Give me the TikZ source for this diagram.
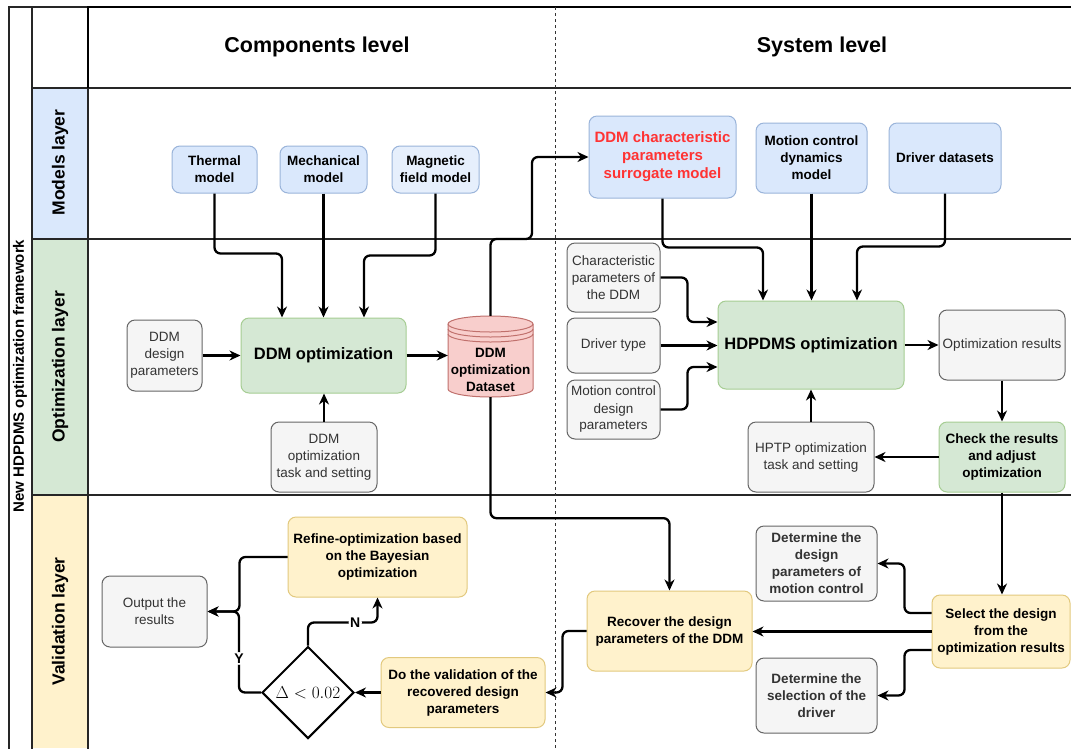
\documentclass[tikz,border=0pt]{standalone}
\usepackage{fontspec}
\setmainfont{Liberation Sans}
\usetikzlibrary{arrows.meta,shapes.geometric}

\definecolor{bluefill}{HTML}{DAE8FC}
\definecolor{bluelite}{HTML}{E6EFFC}
\definecolor{blueline}{HTML}{9AB4DA}
\definecolor{greenfill}{HTML}{D5E8D4}
\definecolor{greenline}{HTML}{A6CD93}
\definecolor{greyfill}{HTML}{F5F5F5}
\definecolor{greyline}{HTML}{666666}
\definecolor{greytext}{HTML}{333333}
\definecolor{yellowfill}{HTML}{FFF2CC}
\definecolor{yellowline}{HTML}{E2C97E}
\definecolor{redfill}{HTML}{F8CECC}
\definecolor{redline}{HTML}{C0706C}
\definecolor{redtext}{HTML}{FF3333}

\newcommand\bxf{\fontsize{13.5}{17}\selectfont}
\newcommand\bigbxf{\fontsize{16.5}{20}\selectfont\bfseries}
\newcommand\hdrf{\fontsize{21.5}{26}\selectfont\bfseries}
\newcommand\layf{\fontsize{17.5}{21}\selectfont\bfseries}

\begin{document}
\begin{tikzpicture}[x=1pt,y=-1pt,
  every node/.style={inner sep=0pt},
  base/.style={rounded corners=8pt, align=center, line width=1pt, font=\bxf},
  bluebox/.style={base, draw=blueline, fill=bluefill, font=\bxf\bfseries},
  greybox/.style={base, draw=greyline, fill=greyfill, text=greytext},
  greenbox/.style={base, draw=greenline, fill=greenfill, font=\bxf\bfseries},
  yellowbox/.style={base, draw=yellowline, fill=yellowfill, font=\bxf\bfseries},
  sz/.style 2 args={minimum width=#1pt, minimum height=#2pt},
  arr/.style={line width=2.3pt, rounded corners=6pt, -{Stealth[length=11pt,width=10pt,inset=3.5pt]}},
  lab/.style={fill=white, font=\fontsize{14}{17}\selectfont\bfseries, inner sep=1.5pt},
  gridline/.style={line width=1.1pt, draw=black!85},
  headline/.style={line width=1.6pt, draw=black},
  dashline/.style={line width=1pt, draw=black!80, dash pattern=on 3pt off 3pt},
  laylabel/.style={rotate=90, font=\layf}
]
\useasboundingbox (0,0) rectangle (1071,748);
\clip (0,0) rectangle (1071,748);

% ---------- swimlane frame ----------
\fill[white] (0,0) rectangle (1071,748);
\fill[bluefill] (32,88) rectangle (88,239);
\fill[greenfill] (32,239) rectangle (88,495);
\fill[yellowfill] (32,495) rectangle (88,748);
\draw[gridline] (9,760) -- (9,7) -- (88,7);
\draw[gridline] (32,7) -- (32,760);
\draw[gridline] (32,88) -- (1080,88);
\draw[gridline] (32,239) -- (1080,239);
\draw[gridline] (32,495) -- (1080,495);
\draw[gridline] (88,88) -- (88,760);
\draw[headline] (88,88) -- (88,7) -- (1080,7);
\draw[dashline] (555,7) -- (555,760);

\node[rotate=90, font=\fontsize{15}{18}\selectfont\bfseries] (fw) at (20,376) {New HDPDMS optimization framework};
\node[laylabel] (lm) at (60,162.5) {Models layer};
\node[laylabel] (lo) at (60,367) {Optimization layer};
\node[laylabel] (lv) at (60,621.5) {Validation layer};
\node[font=\hdrf] (hc) at (317,47) {Components level};
\node[font=\hdrf] (hs) at (822,47) {System level};

% ---------- models layer ----------
\node[bluebox, sz={85}{47}] (th) at (214.5,169.5) {Thermal\\model};
\node[bluebox, sz={87}{47}] (me) at (323.5,169.5) {Mechanical\\model};
\node[bluebox, fill=bluelite, sz={87}{47}] (mg) at (435.5,169.5) {Magnetic\\field model};
\node[bluebox, sz={147}{82}, text=redtext, font=\fontsize{15}{18}\selectfont\bfseries] (sg) at (662.5,157) {DDM characteristic\\parameters\\surrogate model};
\node[bluebox, sz={111}{70}] (mc) at (811.5,158) {Motion control\\dynamics\\model};
\node[bluebox, sz={112}{70}] (dr) at (945,158) {Driver datasets};

% ---------- optimization layer ----------
\node[greybox, sz={75}{71}] (ddp) at (164.5,355.5) {DDM\\design\\parameters};
\node[greenbox, sz={165}{75}, font=\bigbxf] (ddo) at (323.5,355.5) {DDM optimization};
\node[greybox, sz={106}{70}] (dts) at (324,457) {DDM\\optimization\\task and setting};

% data store cylinder
\begin{scope}[line width=1pt, draw=redline]
  \path[draw=redline, fill=redfill] (448,324) -- (448,389)
     arc[start angle=180, end angle=0, x radius=42.5, y radius=8] -- (533,324)
     arc[start angle=0, end angle=-180, x radius=42.5, y radius=8] -- cycle;
  \draw[redline] (448,324) arc[start angle=180, end angle=0, x radius=42.5, y radius=8];
  \draw[redline] (448,329) arc[start angle=180, end angle=0, x radius=42.5, y radius=8];
  \draw[redline] (448,334) arc[start angle=180, end angle=0, x radius=42.5, y radius=8];
\end{scope}
\node[sz={85}{81}] (ds) at (490.5,356.5) {};
\node[align=center, font=\bxf\bfseries] (dstext) at (490.5,369.5) {DDM\\optimization\\Dataset};

\node[greybox, sz={93}{69}] (cp) at (613.5,277.5) {Characteristic\\parameters of\\the DDM};
\node[greybox, sz={93}{55}] (dt) at (613.5,345.5) {Driver type};
\node[greybox, sz={93}{59}] (mcd) at (613.5,409.5) {Motion control\\design\\parameters};
\node[greenbox, sz={186}{88}, font=\bigbxf] (hd) at (811,345) {HDPDMS optimization};
\node[greybox, sz={126}{70}] (hp) at (811,457) {HPTP optimization\\task and setting};
\node[greybox, sz={126}{70}] (or) at (1002,345) {Optimization results};
\node[greenbox, sz={126}{70}] (ck) at (1002,457) {Check the results\\and adjust\\optimization};

% ---------- validation layer ----------
\node[greybox, sz={105}{71}] (out) at (154.5,611.5) {Output the\\results};
\node[yellowbox, sz={179}{80}] (rf) at (377.5,557) {Refine-optimization based\\on the Bayesian\\optimization};
\node[diamond, draw, line width=2pt, fill=white, aspect=1, minimum width=92pt, minimum height=92pt, font=\fontsize{17}{20}\selectfont] (dm) at (308,692.5) {$\Delta<0.02$};
\node[yellowbox, sz={164}{70}] (dv) at (463,692.5) {Do the validation of the\\recovered design\\parameters};
\node[yellowbox, sz={165}{80}] (rc) at (669.5,631) {Recover the design\\parameters of the DDM};
\node[greybox, sz={121}{75}, font=\bxf\bfseries] (dmc) at (816.5,563.5) {Determine the\\design\\parameters of\\motion control};
\node[yellowbox, sz={138}{73}] (sel) at (1001,631.5) {Select the design\\from the\\optimization results};
\node[greybox, sz={121}{75}, font=\bxf\bfseries] (dd) at (816.5,695.5) {Determine the\\selection of the\\driver};

% ---------- connectors ----------
\draw[arr] (th.south) -- ++(0,60) -| ([xshift=-41.5pt]ddo.north);
\draw[arr] (me.south) -- (ddo.north);
\draw[arr] (mg.south) -- ++(0,62) -| ([xshift=40.5pt]ddo.north);
\draw[arr] (ddp.east) -- (ddp.east -| ddo.west);
\draw[arr] (ddo.east) -- (ddo.east -| ds.west);
\draw[arr] (dts.north) -- (dts.north |- ddo.south);
\coordinate (j1) at (532,239);
\draw[arr] (ds.north) |- (j1) |- (sg.west);
\draw[arr] (ds.south) -- ++(0,121) -| (rc.north);

\draw[arr] (sg.south) -- ++(0,49) -| ([xshift=-48pt]hd.north);
\draw[arr] (mc.south) -- (mc.south |- hd.north);
\draw[arr] (dr.south) -- ++(0,53) -| ([xshift=46pt]hd.north);
\draw[arr] (cp.east) -- ++(27,0) |- ([yshift=23pt]hd.west);
\draw[arr] (dt.east) -- (dt.east -| hd.west);
\draw[arr] (mcd.east) -- ++(27,0) |- ([yshift=-22pt]hd.west);
\draw[arr] (hd.east) -- (or.west);
\draw[arr, line width=1.8pt] (or.south) -- (ck.north);
\draw[arr] (ck.west) -- (hp.east);
\draw[arr] (hp.north) -- (hd.south);
\draw[arr] (ck.south) -- (ck.south |- sel.north);

\draw[arr] ([yshift=18.5pt]sel.west) -- ++(-27,0) |- (dmc.east);
\draw[arr] (sel.west) -- (sel.west -| rc.east);
\draw[arr] ([yshift=-18.5pt]sel.west) -- ++(-27,0) |- (dd.east);
\draw[arr] (rc.west) -- ++(-24,0) |- (dv.east);
\draw[arr] (dv.west) -- (dm.east);
\draw[arr] (dm.north) -- ++(0,-23) -| node[lab, pos=0.34] {N} (rf.south);
\draw[arr] (dm.west) -- ++(-22,0) |- node[lab, pos=0.21] {Y} (out.east);
\draw[arr] (rf.west) -- ++(-48,0) |- (out.east);
\end{tikzpicture}
\end{document}
